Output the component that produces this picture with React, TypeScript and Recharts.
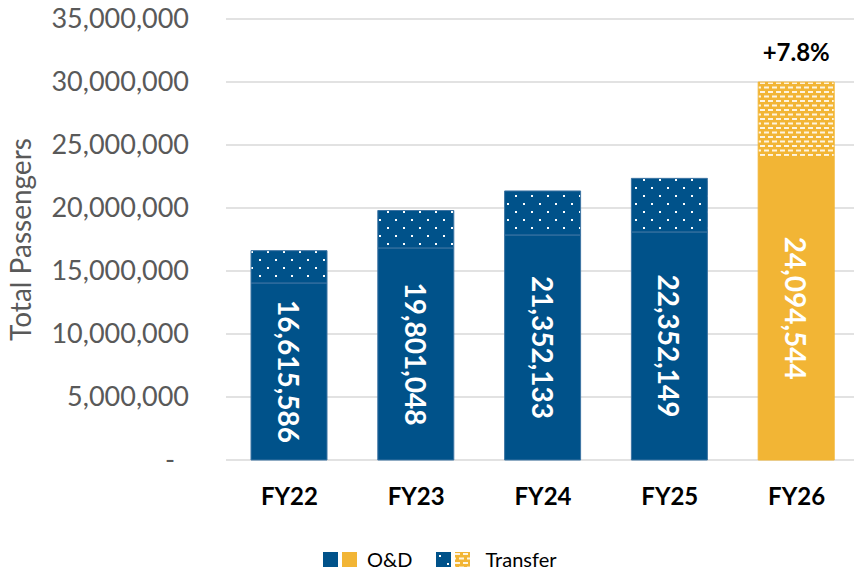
import React from 'react';
import { BarChart, Bar, XAxis, YAxis, CartesianGrid, Cell, LabelList, Legend } from 'recharts';

const years = ['FY22', 'FY23', 'FY24', 'FY25', 'FY26'];
const odValues = [14050000, 16830000, 17860000, 18100000, 24094544];
const transferValues = [2565586, 2971048, 3492133, 4252149, 5900000];
const barLabels = ['16,615,586', '19,801,048', '21,352,133', '22,352,149', '24,094,544'];
const growthLabels = ['', '', '', '', '+7.8%'];
const yTicks = [0, 5000000, 10000000, 15000000, 20000000, 25000000, 30000000, 35000000];

const BLUE = '#00528A';
const GOLD = '#F2B535';
const FONT = 'Lato, "Open Sans", sans-serif';

const data = years.map((year, i) => ({
  year,
  od: odValues[i],
  transfer: transferValues[i],
}));

const YTick = (props: any) => {
  const { x, y, payload } = props;
  const isZero = payload.value === 0;
  return (
    <text x={isZero ? x - 14 : x} y={y} dy="0.35em" textAnchor="end" fill="#595959" fontSize={27} fontFamily={FONT}>
      {isZero ? '-' : payload.value.toLocaleString('en-US')}
    </text>
  );
};

const OdLabel = (props: any) => {
  const { x, y, width, height, index } = props;
  const cx = x + width / 2;
  const cy = y + height / 2;
  return (
    <text x={cx} y={cy} transform={`rotate(90 ${cx} ${cy})`} textAnchor="middle" dominantBaseline="central"
      fill="#FFFFFF" fontSize={28} fontWeight="bold" fontFamily={FONT}>
      {barLabels[index]}
    </text>
  );
};

const GrowthLabel = (props: any) => {
  const { x, y, width, index } = props;
  if (!growthLabels[index]) return null;
  return (
    <text x={x + width / 2} y={y - 21} textAnchor="middle" fill="#000000" fontSize={24} fontWeight="bold" fontFamily={FONT}>
      {growthLabels[index]}
    </text>
  );
};

const Swatch = ({ fill }: { fill: string }) => (
  <svg width={15} height={15} style={{ marginRight: 4 }}>
    <rect x={0} y={0} width={15} height={15} fill={fill} />
  </svg>
);

const LegendContent = () => (
  <div style={{ display: 'flex', alignItems: 'center', paddingLeft: 323, height: 40, fontFamily: FONT, fontSize: 20, color: '#000' }}>
    <Swatch fill={BLUE} />
    <Swatch fill={GOLD} />
    <span style={{ marginLeft: 6, marginRight: 24 }}>O&amp;D</span>
    <Swatch fill="url(#dotsBlue)" />
    <Swatch fill="url(#dotsGold)" />
    <span style={{ marginLeft: 11 }}>Transfer</span>
  </div>
);

export default function App() {
  return (
    <div style={{ position: 'absolute', left: 0, top: 0, width: 854, height: 579, overflow: 'hidden', background: '#fff' }}>
      <BarChart width={860} height={579} data={data} margin={{ top: 19, right: 0, bottom: 0, left: 0 }} barSize={76}>
        <defs>
          <pattern id="dotsBlue" width={16} height={16} patternUnits="userSpaceOnUse">
            <rect x={0} y={0} width={16} height={16} fill={BLUE} />
            <rect x={3} y={3} width={2} height={2} fill="#FFFFFF" />
            <rect x={11} y={11} width={2} height={2} fill="#FFFFFF" />
          </pattern>
          <pattern id="dotsGold" width={8} height={9} patternUnits="userSpaceOnUse">
            <rect x={0} y={0} width={8} height={9} fill={GOLD} />
            <rect x={0} y={1} width={5} height={2} fill="#FFFFFF" fillOpacity={0.85} />
            <rect x={4} y={5.5} width={5} height={2} fill="#FFFFFF" fillOpacity={0.85} />
            <rect x={-4} y={5.5} width={5} height={2} fill="#FFFFFF" fillOpacity={0.85} />
          </pattern>
        </defs>
        <CartesianGrid vertical={false} stroke="#D9D9D9" strokeWidth={1.5} />
        <XAxis
          dataKey="year"
          axisLine={false}
          tickLine={false}
          tickSize={0}
          tickMargin={28}
          height={79}
          tick={{ fill: '#000000', fontSize: 24, fontWeight: 'bold', fontFamily: FONT }}
        />
        <YAxis
          width={226}
          domain={[0, 35000000]}
          ticks={yTicks}
          axisLine={false}
          tickLine={false}
          tickSize={0}
          tickMargin={37}
          tick={<YTick />}
          label={{ value: 'Total Passengers', angle: -90, position: 'insideLeft', offset: 21, fill: '#595959', fontSize: 28, fontFamily: FONT, style: { textAnchor: 'middle' } }}
        />
        <Legend verticalAlign="bottom" align="left" content={<LegendContent />} wrapperStyle={{ height: 40 }} />
        <Bar dataKey="od" stackId="a" isAnimationActive={false} name="O&D">
          {data.map((d, i) => (
            <Cell key={d.year} fill={i === 4 ? GOLD : BLUE} stroke={i === 4 ? GOLD : '#3D74A3'} strokeWidth={1} />
          ))}
          <LabelList dataKey="od" content={<OdLabel />} />
        </Bar>
        <Bar dataKey="transfer" stackId="a" isAnimationActive={false} name="Transfer">
          {data.map((d, i) => (
            <Cell key={d.year} fill={i === 4 ? 'url(#dotsGold)' : 'url(#dotsBlue)'} stroke={i === 4 ? GOLD : '#3D74A3'} strokeWidth={1} />
          ))}
          <LabelList dataKey="transfer" content={<GrowthLabel />} />
        </Bar>
      </BarChart>
    </div>
  );
}
